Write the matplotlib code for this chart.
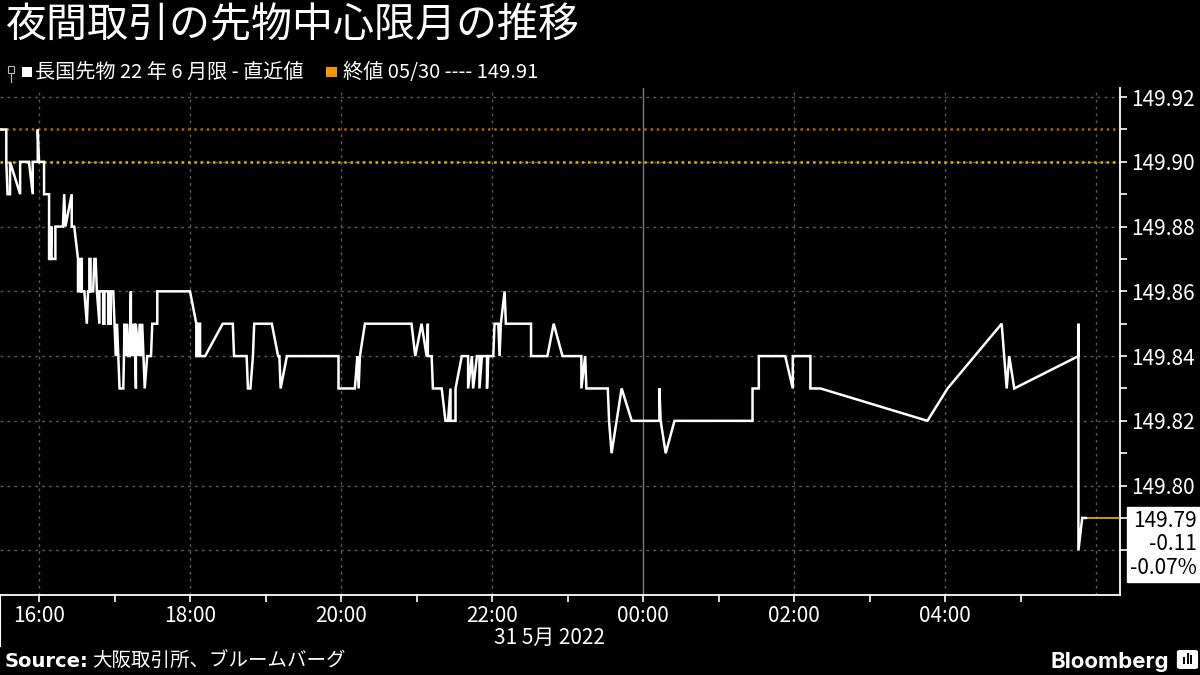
import matplotlib
matplotlib.use("Agg")
import matplotlib.pyplot as plt
from matplotlib.patches import Rectangle, FancyBboxPatch
from matplotlib.lines import Line2D

plt.rcParams['font.family'] = ['Noto Sans CJK JP', 'DejaVu Sans']

# texts
title = '夜間取引の先物中心限月の推移'
series_label = '長国先物 22 年 6 月限 - 直近値'
close_label = '終値 05/30 ---- 149.91'
source_text = '大阪取引所、ブルームバーグ'
date_label = '31 5月 2022'

# night session trades (JST), 30 May 15:29 -> 31 May 05:52
times = ['15:29', '15:34', '15:34', '15:35', '15:37', '15:37', '15:45', '15:45', '15:52', '15:55',
         '15:55', '15:59', '15:59', '16:00', '16:04', '16:04', '16:08', '16:08', '16:09', '16:10',
         '16:10', '16:13', '16:13', '16:19', '16:20', '16:21', '16:26', '16:26', '16:28', '16:31',
         '16:31', '16:33', '16:33', '16:34', '16:34', '16:36', '16:38', '16:39', '16:40', '16:40',
         '16:41', '16:41', '16:43', '16:44', '16:45', '16:46', '16:48', '16:48', '16:51', '16:51',
         '16:52', '16:52', '16:55', '16:55', '16:57', '16:57', '16:59', '17:00', '17:01', '17:02',
         '17:03', '17:04', '17:07', '17:08', '17:09', '17:10', '17:11', '17:12', '17:13', '17:13',
         '17:14', '17:15', '17:16', '17:17', '17:17', '17:19', '17:20', '17:21', '17:22', '17:23',
         '17:24', '17:26', '17:29', '17:30', '17:34', '17:34', '18:00', '18:05', '18:05', '18:06',
         '18:06', '18:08', '18:08', '18:12', '18:26', '18:34', '18:35', '18:45', '18:46', '18:48',
         '18:50', '18:51', '19:05', '19:10', '19:11', '19:12', '19:17', '19:58', '19:58', '20:11',
         '20:13', '20:14', '20:15', '20:19', '20:56', '20:59', '21:04', '21:08', '21:09', '21:09',
         '21:12', '21:13', '21:20', '21:23', '21:25', '21:27', '21:27', '21:31', '21:31', '21:36',
         '21:41', '21:41', '21:44', '21:45', '21:48', '21:50', '21:50', '21:52', '21:56', '21:56',
         '21:57', '22:01', '22:02', '22:05', '22:06', '22:07', '22:10', '22:11', '22:31', '22:31',
         '22:44', '22:49', '22:56', '23:11', '23:11', '23:14', '23:15', '23:32', '23:33', '23:35',
         '23:43', '23:51', '00:13', '00:13', '00:14', '00:18', '00:25', '01:27', '01:27', '01:32',
         '01:32', '01:53', '01:59', '01:59', '02:13', '02:13', '02:21', '03:46', '04:02', '04:45',
         '04:49', '04:51', '04:55', '05:46', '05:46', '05:46', '05:49', '05:52']
prices = [149.91, 149.91, 149.90, 149.89, 149.89, 149.90, 149.89, 149.90, 149.90, 149.89,
          149.90, 149.90, 149.91, 149.90, 149.90, 149.89, 149.89, 149.87, 149.87, 149.88,
          149.87, 149.87, 149.88, 149.88, 149.89, 149.88, 149.89, 149.88, 149.88, 149.87,
          149.86, 149.86, 149.87, 149.87, 149.86, 149.86, 149.85, 149.86, 149.86, 149.87,
          149.87, 149.86, 149.86, 149.87, 149.87, 149.86, 149.85, 149.86, 149.86, 149.85,
          149.85, 149.86, 149.86, 149.85, 149.85, 149.86, 149.86, 149.85, 149.84, 149.85,
          149.84, 149.83, 149.83, 149.85, 149.84, 149.85, 149.84, 149.84, 149.86, 149.84,
          149.85, 149.84, 149.85, 149.83, 149.85, 149.84, 149.85, 149.84, 149.85, 149.84,
          149.83, 149.84, 149.84, 149.85, 149.85, 149.86, 149.86, 149.85, 149.84, 149.84,
          149.85, 149.85, 149.84, 149.84, 149.85, 149.85, 149.84, 149.84, 149.83, 149.83,
          149.84, 149.85, 149.85, 149.84, 149.84, 149.83, 149.84, 149.84, 149.83, 149.83,
          149.84, 149.83, 149.84, 149.85, 149.85, 149.84, 149.85, 149.84, 149.85, 149.84,
          149.84, 149.83, 149.83, 149.82, 149.82, 149.83, 149.82, 149.82, 149.83, 149.84,
          149.84, 149.83, 149.84, 149.83, 149.84, 149.84, 149.83, 149.84, 149.84, 149.83,
          149.84, 149.84, 149.85, 149.85, 149.84, 149.85, 149.86, 149.85, 149.85, 149.84,
          149.84, 149.85, 149.84, 149.84, 149.83, 149.84, 149.83, 149.83, 149.82, 149.81,
          149.83, 149.82, 149.82, 149.83, 149.82, 149.81, 149.82, 149.82, 149.83, 149.83,
          149.84, 149.84, 149.83, 149.84, 149.84, 149.83, 149.83, 149.82, 149.83, 149.85,
          149.83, 149.84, 149.83, 149.84, 149.85, 149.78, 149.79, 149.79]

prev_close = 149.91
open_level = 149.90
last_change = '-0.11'
last_pct = '-0.07%'

x_start, x_end = '15:29', '06:19'
x_labels = ['16:00', '18:00', '20:00', '22:00', '00:00', '02:00', '04:00']
date_label_at = '22:46'
y_ticks = [149.78, 149.80, 149.82, 149.84, 149.86, 149.88, 149.90, 149.92]
y_lim = (149.7662, 149.9228)


def to_hours(s):
    h, m = s.split(':')
    v = int(h) + int(m) / 60
    return v + 24 if v < 12 else v


x = [to_hours(t) for t in times]
x0, x1 = to_hours(x_start), to_hours(x_end)

bg = 'black'
fg = 'white'
grid_c = '#5a5a5a'

fig = plt.figure(figsize=(12, 6.75), dpi=100, facecolor=bg)
ax = fig.add_axes([0, 0.1185, 0.9333, 0.7511], facecolor=bg)
ax.set_xlim(x0, x1)
ax.set_ylim(*y_lim)

# grid
for yv in y_ticks:
    ax.axhline(yv, color=grid_c, lw=1, ls=(0, (2, 3)), zorder=1)
for h in range(16, 31, 2):
    if h == 24:
        ax.axvline(h, color='#7a7a7a', lw=1, zorder=1)
    else:
        ax.axvline(h, color=grid_c, lw=1, ls=(0, (2, 3)), zorder=1)

# reference lines
ax.axhline(prev_close, color='#a8650a', lw=1.8, ls=(0, (1, 1.5)), zorder=2)
ax.axhline(open_level, color='#e0b400', lw=1.8, ls=(0, (1, 1.5)), zorder=2)

# price line
ax.plot(x, prices, color=fg, lw=1.8, zorder=4, solid_joinstyle='miter')
ax.plot([x[-1], x1], [prices[-1], prices[-1]], color='#f0b400', lw=1.2, zorder=3)

# axes styling
for s in ['top', 'left']:
    ax.spines[s].set_visible(False)
ax.spines['right'].set_color(fg)
ax.spines['bottom'].set_color(fg)
ax.spines['right'].set_linewidth(1.3)
ax.spines['bottom'].set_linewidth(1.3)

ax.yaxis.tick_right()
ax.set_yticks(y_ticks)
ax.set_yticklabels(['' if v < 149.79 else f'{v:.2f}' for v in y_ticks])
ax.set_yticks([v + 0.01 for v in y_ticks[:-1]], minor=True)
ax.tick_params(axis='y', which='both', colors=fg, labelcolor=fg, labelsize=15,
               length=5, width=1.2, pad=3, direction='out')

ax.set_xticks([to_hours(t) for t in x_labels])
ax.set_xticklabels(x_labels)
ax.set_xticks(range(17, 31, 2), minor=True)
ax.tick_params(axis='x', which='both', colors=fg, labelcolor=fg, labelsize=15,
               length=5, width=1.2, pad=2, direction='out')

# date separator and date label
ax.plot([x0, x0], [0, -0.1], transform=ax.get_xaxis_transform(), color=fg,
        lw=1.5, clip_on=False)
ax.text(to_hours(date_label_at), -0.085, date_label, transform=ax.get_xaxis_transform(),
        color=fg, fontsize=15, ha='center', va='center')

# last value box
ax.annotate(f'{prices[-1]:.2f}\n{last_change}\n{last_pct}',
            xy=(1, prices[-1]), xycoords=ax.get_yaxis_transform(),
            xytext=(7.5, 6), textcoords='offset points',
            ha='left', va='top', multialignment='right', fontsize=15,
            color='black', linespacing=1.1, zorder=10, annotation_clip=False,
            bbox=dict(boxstyle='square,pad=0.15', fc='white', ec='white'))

# title and legend
fig.text(0.004, 0.962, title, color=fg, fontsize=29.5, ha='left', va='center')
fig.patches.append(Rectangle((0.0068, 0.8915), 0.0045, 0.010, transform=fig.transFigure,
                             fill=False, ec='#bbbbbb', lw=0.8))
fig.lines.append(Line2D([0.0090, 0.0090], [0.8915, 0.879], transform=fig.transFigure,
                        color='#bbbbbb', lw=0.8))
fig.patches.append(Rectangle((0.0180, 0.8855), 0.0085, 0.0150, transform=fig.transFigure,
                             fc=fg, ec='none'))
fig.text(0.0295, 0.893, series_label, color=fg, fontsize=14.5, ha='left', va='center')
fig.patches.append(Rectangle((0.2720, 0.8855), 0.0085, 0.0150, transform=fig.transFigure,
                             fc='#f39800', ec='none'))
fig.text(0.2855, 0.893, close_label, color=fg, fontsize=14.5, ha='left', va='center')

# footer
fig.text(0.004, 0.006, 'Source:', color=fg, fontsize=14, fontweight='bold',
         family='DejaVu Sans', ha='left', va='bottom')
fig.text(0.077, 0.006, source_text, color=fg, fontsize=14, ha='left', va='bottom')
fig.text(0.974, 0.005, 'Bloomberg', color=fg, fontsize=16, fontweight='bold',
         family='Inter', ha='right', va='bottom')
fig.patches.append(FancyBboxPatch((0.9833, 0.012), 0.0125, 0.022, transform=fig.transFigure,
                                  boxstyle='round,pad=0.002', fc=fg, ec=fg))
for i, hgt in enumerate([0.010, 0.016, 0.012]):
    fig.patches.append(Rectangle((0.9860 + i * 0.0030, 0.017), 0.0015, hgt,
                                 transform=fig.transFigure, fc='black', ec='none'))

fig.savefig('out.png', dpi=100, facecolor=bg)
